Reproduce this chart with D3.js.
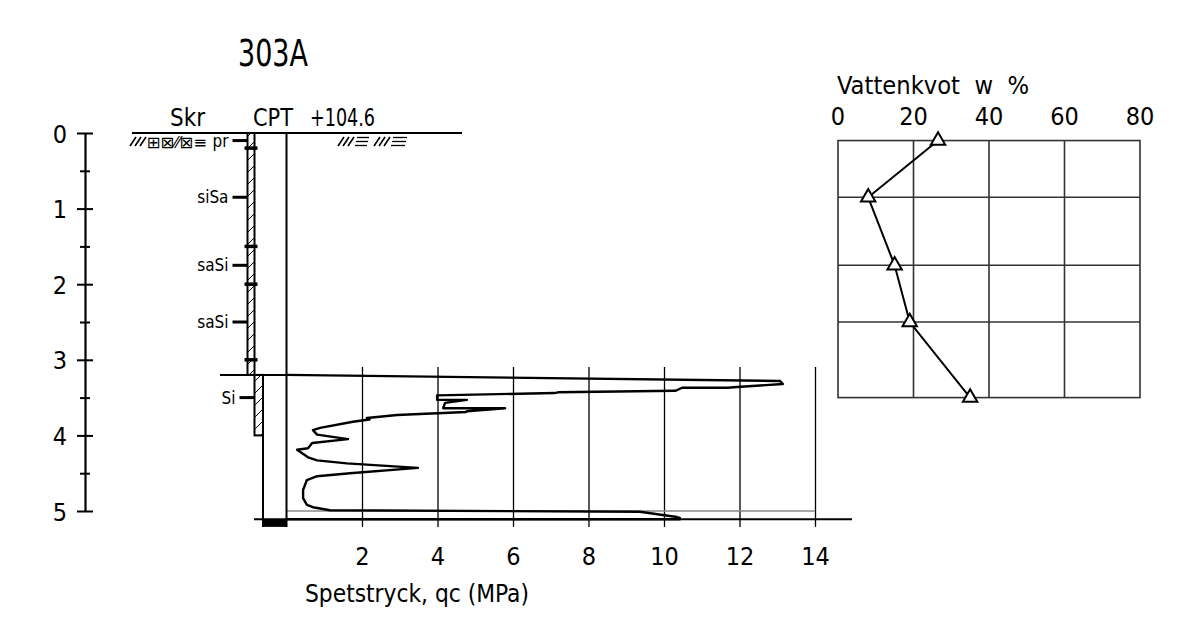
<!DOCTYPE html>
<html>
<head>
<meta charset="utf-8">
<script src="https://cdn.jsdelivr.net/npm/d3@7"></script>
<style>
  html, body { margin: 0; padding: 0; background: #fff; }
  svg { display: block; }
  text { font-family: "Liberation Sans Narrow", "DejaVu Sans Condensed", sans-serif; fill: #000; }
</style>
</head>
<body>
<svg id="chart" width="1177" height="630"></svg>
<script>
const holeName = "303A"
const groundLevel = "+104.6"
const depthTicks = [0, 1, 2, 3, 4, 5]
const depthMinor = [0.5, 1.5, 2.5, 3.5, 4.5]
const qcTicks = [2, 4, 6, 8, 10, 12, 14]
const wTicks = [0, 20, 40, 60, 80]

// samples (Skr) and water content
const sampleDepth = [0.1, 0.85, 1.75, 2.5, 3.5]
const sampleSoil = ["pr", "siSa", "saSi", "saSi", "Si"]
const waterContent = [26.5, 8, 15, 19, 35]
const layerBreaks = [0.2, 1.5, 2.0, 3.0]

// CPT sounding, depth (m) and qc (MPa)
const cptDepth = [3.20, 3.28, 3.32, 3.36, 3.37, 3.37, 3.41, 3.43, 3.44, 3.47, 3.53, 3.53, 3.57, 3.64, 3.64, 3.68,
  3.69, 3.73, 3.77, 3.79, 3.82, 3.90, 3.93, 3.99, 4.05, 4.10, 4.17, 4.19, 4.29, 4.33, 4.37, 4.43, 4.50, 4.54,
  4.59, 4.72, 4.83, 4.92, 4.95, 4.99, 5.01, 5.08, 5.09, 5.11, 5.11]
const cptQc = [0.0, 13.07, 13.15, 11.93, 11.69, 10.48, 10.3, 7.19, 7.1, 3.99, 3.99, 4.78, 4.20, 4.15, 5.79, 4.78,
  4.75, 2.93, 2.13, 2.2, 1.76, 0.89, 0.70, 0.81, 1.63, 0.68, 0.57, 0.28, 0.57, 0.81, 1.60, 3.48, 1.68, 0.81,
  0.54, 0.44, 0.44, 0.54, 0.70, 1.15, 9.36, 10.34, 10.42, 10.42, 0.0]

const svg = d3.select("#chart")

const y = d3.scaleLinear().domain([0, 5]).range([133, 511])
const x = d3.scaleLinear().domain([0, 14]).range([286.5, 815])
const w = d3.scaleLinear().domain([0, 80]).range([838, 1140])

const colL = 247.5, colR = 254.5, colR2 = 263, cptTop = 3.2, cptEnd = 5.11, gridBottom = 5.21

// hatch pattern for the Skr column
const defs = svg.append("defs")
const pat = defs.append("pattern")
  .attr("id", "hatch").attr("patternUnits", "userSpaceOnUse")
  .attr("width", 12).attr("height", 12)
pat.append("path").attr("d", "M0,12 L12,0 M-3,3 L3,-3 M9,15 L15,9")
  .attr("stroke", "#000").attr("stroke-width", 1)

// title
svg.append("text").attr("x", 238).attr("y", 66)
  .attr("font-size", 38).attr("textLength", 70).attr("lengthAdjust", "spacingAndGlyphs").text(holeName)

// column headers
svg.append("text").attr("x", 170).attr("y", 126)
  .attr("font-size", 24).attr("textLength", 35).attr("lengthAdjust", "spacingAndGlyphs").text("Skr")
svg.append("text").attr("x", 253).attr("y", 126)
  .attr("font-size", 24).attr("textLength", 40).attr("lengthAdjust", "spacingAndGlyphs").text("CPT")
svg.append("text").attr("x", 310).attr("y", 126)
  .attr("font-size", 24).attr("textLength", 65).attr("lengthAdjust", "spacingAndGlyphs").text(groundLevel)

// ground surface
svg.append("line").attr("x1", 132).attr("x2", 462).attr("y1", y(0)).attr("y2", y(0))
  .attr("stroke", "#000").attr("stroke-width", 2)

// ground symbols
function slashes(g, x0, n) {
  for (let i = 0; i < n; i++) {
    g.append("line").attr("x1", x0 + i * 5).attr("y1", 146).attr("x2", x0 + i * 5 + 6).attr("y2", 137)
      .attr("stroke", "#000").attr("stroke-width", 1.6)
  }
}
function bars(g, x0, len) {
  for (let i = 0; i < 3; i++) {
    g.append("line").attr("x1", x0 - i).attr("x2", x0 + len - i).attr("y1", 137.5 + i * 4).attr("y2", 137.5 + i * 4)
      .attr("stroke", "#000").attr("stroke-width", 1.3)
  }
}
const sym = svg.append("g")
slashes(sym, 338, 3); bars(sym, 357, 12); slashes(sym, 374, 3); bars(sym, 393, 14)
slashes(sym, 130, 3)
svg.append("text").attr("x", 147).attr("y", 148).attr("font-size", 16)
  .attr("font-family", "DejaVu Sans Condensed").attr("textLength", 60).attr("lengthAdjust", "spacingAndGlyphs")
  .text("⊞⊠⁄⁄⊠≡")

// depth axis
const yAxis = svg.append("g").attr("transform", "translate(85,0)")
  .call(d3.axisLeft(y).tickValues(depthTicks).tickSize(8).tickSizeOuter(0).tickPadding(10).tickFormat(d3.format("d")))
yAxis.attr("font-family", null).attr("font-size", null)
yAxis.select(".domain").attr("stroke-width", 2.2)
yAxis.selectAll(".tick line").attr("x1", 8).attr("x2", -8).attr("stroke-width", 2)
yAxis.selectAll(".tick text").attr("font-size", 25).attr("dy", "0.36em")
const yMinor = svg.append("g").attr("transform", "translate(85,0)")
  .call(d3.axisLeft(y).tickValues(depthMinor).tickSize(5).tickFormat(""))
yMinor.select(".domain").remove()
yMinor.selectAll(".tick line").attr("x1", 5).attr("x2", -5).attr("stroke-width", 2)

// qc grid and labels
const xAxis = svg.append("g").attr("transform", `translate(0,${y(gridBottom)})`)
  .call(d3.axisBottom(x).tickValues(qcTicks).tickSize(-(y(gridBottom) - y(3.095))).tickPadding(20))
xAxis.attr("font-family", null).attr("font-size", null)
xAxis.select(".domain").remove()
xAxis.selectAll(".tick line").attr("stroke-width", 1.3)
xAxis.selectAll(".tick text").attr("font-size", 25)
svg.append("text").attr("x", 305).attr("y", 602)
  .attr("font-size", 24).attr("textLength", 224).attr("lengthAdjust", "spacingAndGlyphs").text("Spetstryck, qc (MPa)")

// horizontal reference lines
svg.append("line").attr("x1", 220).attr("x2", x(0)).attr("y1", y(cptTop)).attr("y2", y(cptTop))
  .attr("stroke", "#000").attr("stroke-width", 2)
svg.append("line").attr("x1", x(0)).attr("x2", x(14)).attr("y1", y(5)).attr("y2", y(5))
  .attr("stroke", "#888").attr("stroke-width", 1.3)
svg.append("line").attr("x1", 254).attr("x2", 852).attr("y1", y(cptEnd)).attr("y2", y(cptEnd))
  .attr("stroke", "#000").attr("stroke-width", 2)

// Skr column
svg.append("rect").attr("x", colL).attr("y", y(0)).attr("width", colR - colL).attr("height", y(cptTop) - y(0))
  .attr("fill", "url(#hatch)").attr("stroke", "#000").attr("stroke-width", 2)
svg.append("rect").attr("x", colR).attr("y", y(cptTop)).attr("width", colR2 - colR).attr("height", y(4) - y(cptTop))
  .attr("fill", "url(#hatch)").attr("stroke", "#000").attr("stroke-width", 2)
svg.selectAll(".brk").data(layerBreaks).join("line")
  .attr("x1", colL - 3).attr("x2", colR + 3).attr("y1", d => y(d)).attr("y2", d => y(d))
  .attr("stroke", "#000").attr("stroke-width", 3.5)

// CPT column
svg.append("line").attr("x1", x(0)).attr("x2", x(0)).attr("y1", y(0)).attr("y2", y(gridBottom))
  .attr("stroke", "#000").attr("stroke-width", 2)
svg.append("line").attr("x1", colR2).attr("x2", colR2).attr("y1", y(cptTop)).attr("y2", y(gridBottom))
  .attr("stroke", "#000").attr("stroke-width", 2)
svg.append("rect").attr("x", colR2).attr("y", y(cptEnd)).attr("width", x(0) - colR2).attr("height", y(gridBottom) - y(cptEnd))
  .attr("fill", "#000")

// sample labels
const samples = sampleDepth.map((d, i) => ({ d, soil: sampleSoil[i], edge: d < cptTop ? colL : colR }))
svg.selectAll(".sdash").data(samples).join("line")
  .attr("x1", s => s.edge - 15).attr("x2", s => s.edge).attr("y1", s => y(s.d)).attr("y2", s => y(s.d))
  .attr("stroke", "#000").attr("stroke-width", 3)
svg.selectAll(".slab").data(samples).join("text")
  .attr("x", s => s.edge - 19).attr("y", s => y(s.d)).attr("dy", "0.35em")
  .attr("text-anchor", "end").attr("font-size", 17).text(s => s.soil)

// CPT curve
const cpt = cptDepth.map((d, i) => [cptQc[i], d])
svg.append("path")
  .attr("d", d3.line().x(p => x(p[0])).y(p => y(p[1]))(cpt))
  .attr("fill", "none").attr("stroke", "#000").attr("stroke-width", 2.4).attr("stroke-linejoin", "round")

// water content chart
const wc = svg.append("g")
const d0 = sampleDepth[0], d1 = sampleDepth[sampleDepth.length - 1]
wc.selectAll(".wv").data(wTicks.slice(1, -1)).join("line")
  .attr("x1", w).attr("x2", w).attr("y1", y(d0)).attr("y2", y(d1))
  .attr("stroke", "#333").attr("stroke-width", 1.6)
wc.selectAll(".wh").data(sampleDepth.slice(1, -1)).join("line")
  .attr("x1", w(0)).attr("x2", w(80)).attr("y1", y).attr("y2", y)
  .attr("stroke", "#333").attr("stroke-width", 1.6)
wc.append("rect").attr("x", w(0)).attr("y", y(d0)).attr("width", w(80) - w(0)).attr("height", y(d1) - y(d0))
  .attr("fill", "none").attr("stroke", "#333").attr("stroke-width", 1.6)
wc.selectAll(".wt").data(wTicks).join("text")
  .attr("x", w).attr("y", 125).attr("text-anchor", "middle").attr("font-size", 25).text(d => d)
wc.append("text").attr("x", 837).attr("y", 94).attr("font-size", 24)
  .attr("xml:space", "preserve").attr("textLength", 192).attr("lengthAdjust", "spacingAndGlyphs")
  .text("Vattenkvot  w  %")

const wpts = sampleDepth.map((d, i) => [waterContent[i], d])
wc.append("path")
  .attr("d", d3.line().x(p => w(p[0])).y(p => y(p[1]))(wpts))
  .attr("fill", "none").attr("stroke", "#000").attr("stroke-width", 2)
wc.selectAll(".tri").data(wpts).join("path")
  .attr("transform", p => `translate(${w(p[0])},${y(p[1])})`)
  .attr("d", d3.symbol(d3.symbolTriangle, 90))
  .attr("fill", "#fff").attr("stroke", "#000").attr("stroke-width", 2)
</script>
</body>
</html>
